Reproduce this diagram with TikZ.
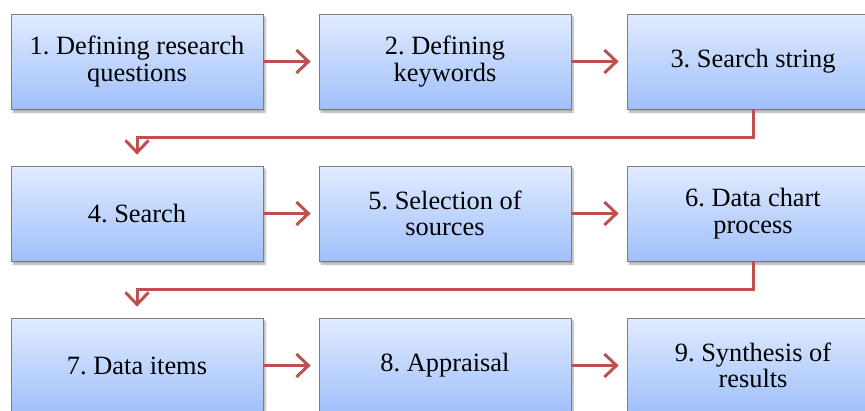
\documentclass[tikz,border=0pt]{standalone}
\usepackage{fontspec}
\setmainfont{Liberation Serif}
\usetikzlibrary{arrows.meta,shadows.blur}
\definecolor{boxtop}{RGB}{224,235,255}
\definecolor{boxbot}{RGB}{160,192,250}
\definecolor{boxline}{RGB}{125,125,125}
\definecolor{arrred}{RGB}{192,80,77}
\tikzset{
  stepbox/.style={rectangle, draw=boxline, line width=0.8pt, top color=boxtop, bottom color=boxbot,
    minimum width=252pt, minimum height=95pt, inner sep=0pt, align=center,
    font=\fontsize{26.4}{26.5}\selectfont\frenchspacing,
    blur shadow={shadow xshift=2pt, shadow yshift=-3pt, shadow blur steps=6, shadow opacity=35}},
  arr/.style={draw=arrred, line width=3pt, -{Straight Barb[length=12pt,width=23pt]}}
}
\begin{document}
\begin{tikzpicture}[x=1pt,y=-1pt]
\useasboundingbox (0,0) rectangle (865,410);
\clip (0,0) rectangle (865,410);
\node[stepbox] (n1) at (137,61.5) {1. Defining research\\questions};
\node[stepbox] (n2) at (445,61.5) {2. Defining\\keywords};
\node[stepbox] (n3) at (753,61.5) {3. Search string};
\node[stepbox] (n4) at (137,213.5) {4. Search};
\node[stepbox] (n5) at (445,213.5) {5. Selection of\\sources};
\node[stepbox] (n6) at (753,213.5) {6. Data chart\\process};
\node[stepbox] (n7) at (137,365.5) {7. Data items};
\node[stepbox] (n8) at (445,365.5) {8. Appraisal};
\node[stepbox] (n9) at (753,365.5) {9. Synthesis of\\results};
\draw[arr] (n1.east) -- ([xshift=-8pt]n2.west);
\draw[arr] (n2.east) -- ([xshift=-8pt]n3.west);
\draw[arr] (n4.east) -- ([xshift=-8pt]n5.west);
\draw[arr] (n5.east) -- ([xshift=-8pt]n6.west);
\draw[arr] (n7.east) -- ([xshift=-8pt]n8.west);
\draw[arr] (n8.east) -- ([xshift=-8pt]n9.west);
\draw[arr] (n3.south) -- ++(0,28.5) -| ([yshift=11pt]n4.north);
\draw[arr] (n6.south) -- ++(0,28.5) -| ([yshift=11pt]n7.north);
\end{tikzpicture}
\end{document}
